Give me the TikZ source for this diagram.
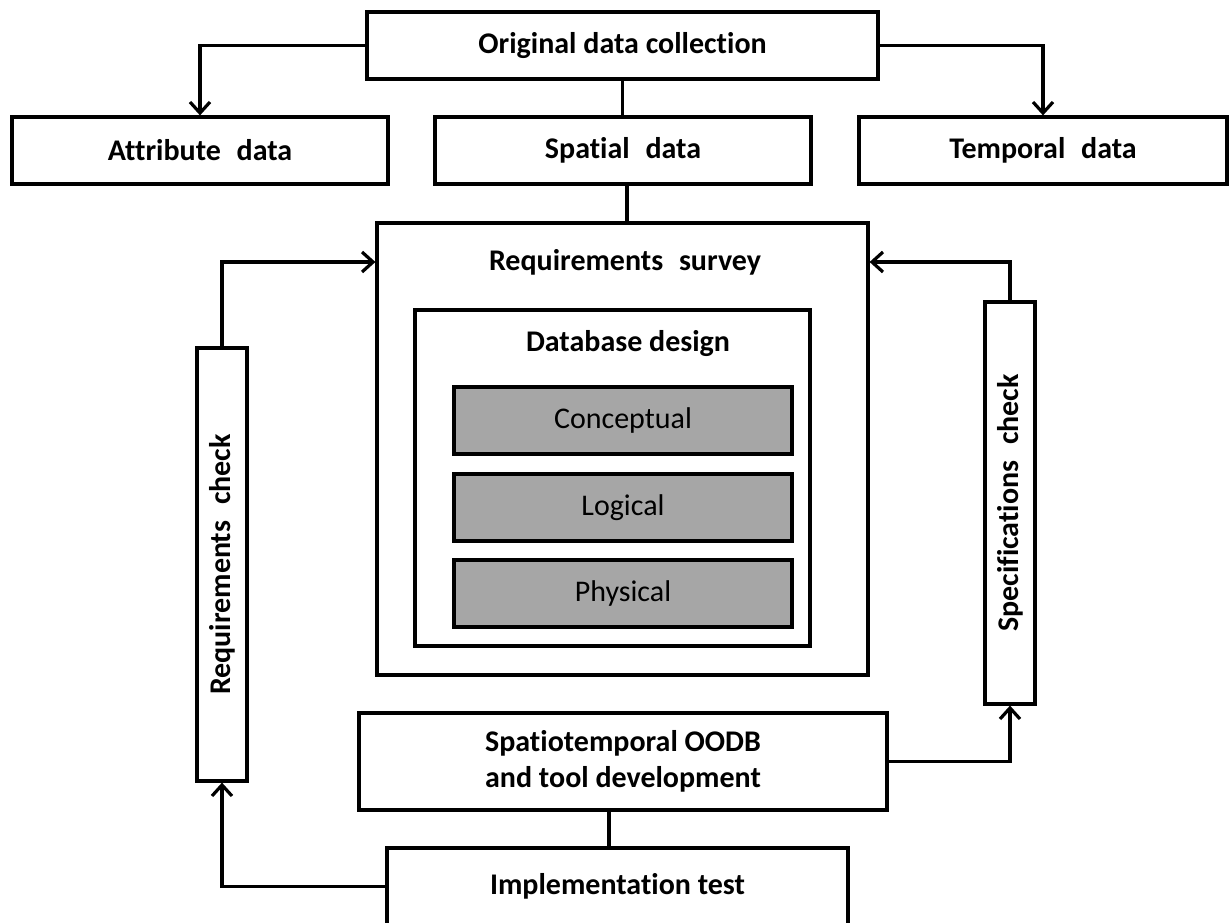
\documentclass[tikz,border=0pt]{standalone}
\usepackage{fontspec}
\setmainfont{Carlito}[Ligatures=NoCommon]
\usetikzlibrary{arrows.meta}
\definecolor{boxgray}{HTML}{A6A6A6}
\newcommand{\wsp}{\hspace{0.3em}}
\begin{document}
\begin{tikzpicture}[x=1pt,y=-1pt,line width=3.2pt,
  txt/.style={inner sep=0pt,font=\bfseries\fontsize{30}{36}\selectfont,align=center},
  box/.style={txt,draw,rectangle},
  graybox/.style={draw,rectangle,fill=boxgray,inner sep=0pt,font=\fontsize{30}{36}\selectfont,minimum width=338pt,minimum height=67pt},
  arr/.style={-{Straight Barb[length=11pt,width=20pt,line width=3.2pt]}}]
\useasboundingbox (0,0) rectangle (1229,923);
% top row
\node[box,minimum width=511pt,minimum height=67pt] (orig) at (622.5,45.5) {Original data collection};
\node[box,minimum width=376pt,minimum height=67pt] (attr) at (200,150.5) {Attribute\wsp{} data};
\node[box,minimum width=376pt,minimum height=67pt] (spat) at (623,150.5) {Spatial\wsp{} data};
\node[box,minimum width=368pt,minimum height=67pt] (temp) at (1043,150.5) {Temporal\wsp{} data};
% requirements survey
\node[draw,rectangle,inner sep=0pt,minimum width=491pt,minimum height=452pt] (req) at (622.5,449) {};
\node[txt] (reqtitle) at (625,262) {Requirements\wsp{} survey};
\node[draw,rectangle,inner sep=0pt,minimum width=395pt,minimum height=336pt] (db) at (612.5,478) {};
\node[txt] (dbtitle) at (628,344) {Database design};
\node[graybox] (concept) at (623,420.5) {Conceptual};
\node[graybox] (logic) at (623,507.5) {Logical};
\node[graybox] (phys) at (623,593.5) {Physical};
% side checks
\node[box,minimum width=50pt,minimum height=433pt] (reqcheck) at (222,564.5) {\rotatebox{90}{Requirements\wsp{} check}};
\node[box,minimum width=50pt,minimum height=402pt] (speccheck) at (1010,503) {\rotatebox{90}{Specifications\wsp{} check}};
% bottom
\node[box,minimum width=528pt,minimum height=97pt] (spatio) at (623,761.5) {Spatiotemporal OODB\\and tool development};
\node[box,minimum width=461pt,minimum height=77pt] (impl) at (617.5,886.5) {Implementation test};
% connectors
\draw[arr] (orig.west) -| (attr.north);
\draw[arr] (orig.east) -| (temp.north);
\draw (orig.south) -- (orig.south |- spat.north);
\draw ([xshift=4pt]spat.south) -- ([xshift=4pt]spat.south |- req.north);
\draw[arr] (reqcheck.north) |- (reqtitle -| req.west);
\draw[arr] (speccheck.north) |- (reqtitle -| req.east);
\draw[arr] (spatio.east) -| (speccheck.south);
\draw ([xshift=-8.5pt]impl.north) -- ([xshift=-8.5pt]impl.north |- spatio.south);
\draw[arr] (impl.west) -| (reqcheck.south);
\end{tikzpicture}
\end{document}
